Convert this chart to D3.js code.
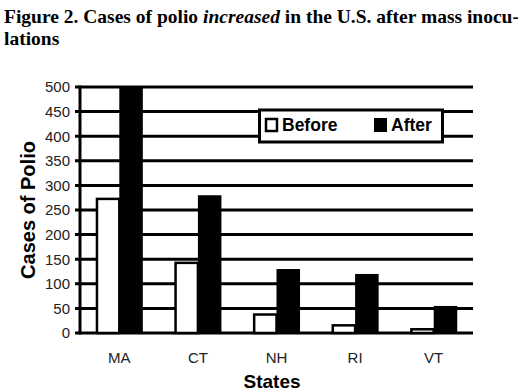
<!DOCTYPE html>
<html><head><meta charset="utf-8">
<script src="https://cdn.jsdelivr.net/npm/d3@7"></script>
<style>body{margin:0;background:#fff}svg{display:block}</style>
</head><body>
<svg id="c" width="518" height="392"></svg>
<script>
const states = ["MA","CT","NH","RI","VT"];
const seriesNames = ["Before","After"];
const beforeValues = [275, 145, 40, 18, 10];
const afterValues = [500, 280, 130, 120, 55];
const yTicks = [0,50,100,150,200,250,300,350,400,450,500];

const svg = d3.select("#c");
const pLeft = 80, pRight = 473, pTop = 87, pBottom = 333;

svg.append("text").attr("x",4).attr("y",23)
  .attr("font-family","'Liberation Serif','Times New Roman',serif")
  .attr("font-weight","bold").attr("font-size",19.5)
  .call(t=>{
    t.append("tspan").text("Figure 2. Cases of polio ");
    t.append("tspan").attr("font-style","italic").text("increased");
    t.append("tspan").text(" in the U.S. after mass inocu-");
  });
svg.append("text").attr("x",4).attr("y",45)
  .attr("font-family","'Liberation Serif','Times New Roman',serif")
  .attr("font-weight","bold").attr("font-size",19.5).text("lations");

const y = d3.scaleLinear().domain([0,500]).range([pBottom, pTop]);
const x = d3.scaleBand().domain(states).range([pLeft, pRight]).padding(0);
const xi = d3.scaleBand().domain(seriesNames).range([0, x.bandwidth()]).paddingInner(0).paddingOuter(0.67);

// gridlines
svg.append("g").selectAll("line").data(yTicks).join("line")
  .attr("x1", pLeft-5).attr("x2", pRight)
  .attr("y1", d=>y(d)).attr("y2", d=>y(d))
  .attr("stroke","#000").attr("stroke-width",3);
// y axis line
svg.append("line").attr("x1",pLeft).attr("x2",pLeft).attr("y1",y(500)-1.5).attr("y2",y(0)+1.5)
  .attr("stroke","#000").attr("stroke-width",3);

// tick labels
svg.append("g").selectAll("text").data(yTicks).join("text")
  .attr("x", 70).attr("y", d=>y(d)).attr("dy","0.36em")
  .attr("text-anchor","end").attr("font-family","'Liberation Sans',Arial,sans-serif")
  .attr("font-size",15).attr("fill","#222").text(d=>d);

const rows = states.map((s,i)=>({state:s, Before:beforeValues[i], After:afterValues[i]}));
const g = svg.append("g");
rows.forEach(r=>{
  seriesNames.forEach(k=>{
    const bx = x(r.state)+xi(k);
    if(k==="Before"){
      g.append("rect").attr("x",bx+1.2).attr("y",y(r[k])+1.2)
        .attr("width",xi.bandwidth()-1.2).attr("height",Math.max(0,y(0)-y(r[k])-1.2))
        .attr("fill","#fff").attr("stroke","#000").attr("stroke-width",2.5);
    } else {
      g.append("rect").attr("x",bx).attr("y",y(r[k]))
        .attr("width",xi.bandwidth()).attr("height",y(0)-y(r[k]))
        .attr("fill","#000");
    }
  });
});

// x labels
svg.append("g").selectAll("text").data(states).join("text")
  .attr("x", d=>x(d)+x.bandwidth()/2).attr("y",363)
  .attr("text-anchor","middle").attr("font-family","'Liberation Sans',Arial,sans-serif")
  .attr("font-size",15).attr("fill","#222").text(d=>d);

// axis titles
svg.append("text").attr("transform","translate(35,210) rotate(-90)")
  .attr("text-anchor","middle").attr("font-family","'Liberation Sans',Arial,sans-serif")
  .attr("font-weight","bold").attr("font-size",20).text("Cases of Polio");
svg.append("text").attr("x",272).attr("y",388)
  .attr("text-anchor","middle").attr("font-family","'Liberation Sans',Arial,sans-serif")
  .attr("font-weight","bold").attr("font-size",19).text("States");

// legend
const lg = svg.append("g");
lg.append("rect").attr("x",259.5).attr("y",110).attr("width",183).attr("height",32)
  .attr("fill","#fff").attr("stroke","#000").attr("stroke-width",3);
lg.append("rect").attr("x",266).attr("y",119).attr("width",11).attr("height",12)
  .attr("fill","#fff").attr("stroke","#000").attr("stroke-width",2.5);
lg.append("text").attr("x",282).attr("y",131).attr("font-family","'Liberation Sans',Arial,sans-serif")
  .attr("font-weight","bold").attr("font-size",17.5).text(seriesNames[0]);
lg.append("rect").attr("x",374).attr("y",118).attr("width",13).attr("height",14).attr("fill","#000");
lg.append("text").attr("x",391).attr("y",131).attr("font-family","'Liberation Sans',Arial,sans-serif")
  .attr("font-weight","bold").attr("font-size",17.5).text(seriesNames[1]);
</script>
</body></html>
